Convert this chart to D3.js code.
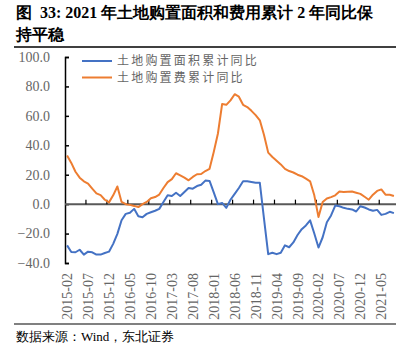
<!DOCTYPE html>
<html>
<head>
<meta charset="utf-8">
<script src="https://cdn.jsdelivr.net/npm/d3@7"></script>
<style>
  html, body { margin: 0; padding: 0; background: #fff; }
  svg { display: block; }
</style>
</head>
<body>
<div id="chart"></div>
<script>
// 数据：2015-02 ~ 2021-08 月度，两年累计同比（%）
const START = new Date(2015, 1, 1);
const N = 79;
const months = d3.range(N).map(i => d3.timeFormat("%Y-%m")(d3.timeMonth.offset(START, i)));

const areaYoY = [
  -28, -32.5, -32.7, -31, -34.3, -32.3, -32.7, -34.3, -34.3, -33.2,
  -32.3, -27, -20.2, -11, -6.6, -5.9, -3.2, -8.2, -8.9, -6.6,
  -5.5, -4.5, -3.2, 1.4, 6, 5.5, 7.7, 5.5, 8.2, 11,
  10.5, 12.3, 13.2, 16, 15.8, 8, 0, 0.8, -2.5, 3,
  7, 11, 15.5, 15.5, 15, 14.5, 14.5, -10, -34, -33,
  -34, -33, -28, -29.3, -26, -21, -17, -14.5, -11, -20,
  -29.5, -22.5, -12.3, -7.7, -1, -1.4, -2.5, -3.2, -3.6, -5,
  -1.4, -2.3, -3.6, -4.5, -3.9, -7.3, -6.6, -5.2, -6.1
];

const costYoY = [
  33, 28, 22, 18, 15.5, 14, 10.5, 7.3, 6.1, 3,
  1.2, 6, 12, 1.5, 0, -0.5, -1.2, -2, 0, 1.5,
  4, 4.8, 6.5, 11, 15, 17, 21, 19.5, 18, 16.2,
  18.5, 20.3, 20.5, 22.5, 24, 35.5, 48, 68, 67.5, 70.5,
  74.7, 73, 67.5, 66, 63.4, 60.5, 57, 47, 35, 32,
  29.5, 27, 24, 22.5, 21.5, 20, 19, 17.3, 15.5, 6,
  -8.8, 1.4, 3.8, 4.8, 6, 8.6, 8.2, 8.5, 8.6, 7.8,
  7, 5, 3, 6.4, 9, 10, 6.4, 6.4, 5.5
];

const yTicks = [100, 80, 60, 40, 20, 0, -20, -40];
const xTickLabels = ["2015-02","2015-07","2015-12","2016-05","2016-10","2017-03","2017-08","2018-01",
                     "2018-06","2018-11","2019-04","2019-09","2020-02","2020-07","2020-12","2021-05"];

const seriesNames = ["土地购置面积累计同比", "土地购置费累计同比"];
const seriesColors = ["#4472C4", "#ED7D31"];

const W = 411, H = 354;
const svg = d3.select("#chart").append("svg").attr("width", W).attr("height", H);

const SERIF = "'Liberation Serif', 'Times New Roman', serif";
const CJK = "'Noto Sans CJK SC', sans-serif";

// 标题
const title = svg.append("g").attr("font-family", SERIF).attr("font-weight", "bold")
  .attr("font-size", 16).attr("fill", "#000");
title.append("text").attr("x", 16).attr("y", 18).attr("xml:space", "preserve")
  .text("图  33: 2021 年土地购置面积和费用累计 2 年同比保");
title.append("text").attr("x", 16).attr("y", 40).text("持平稳");

svg.append("line").attr("x1", 14).attr("x2", 396).attr("y1", 47).attr("y2", 47)
  .attr("stroke", "#000").attr("stroke-width", 1.5);

// 刻度
const x = d3.scaleBand().domain(months).range([65, 396]).paddingInner(0).paddingOuter(0);
const y = d3.scaleLinear().domain([-40, 100]).range([263, 57]);
const cx = m => x(m) + x.bandwidth() / 2;

// y 轴
const yAxis = svg.append("g").attr("transform", "translate(65,0)")
  .call(d3.axisRight(y).tickValues(yTicks).tickSize(4).tickFormat(""));
yAxis.select(".domain").attr("stroke", "#000").attr("stroke-width", 1.5);
yAxis.selectAll(".tick line").attr("stroke", "#000").attr("stroke-width", 1.5);

svg.append("g").selectAll("text").data(yTicks).join("text")
  .attr("x", 50).attr("y", d => y(d)).attr("dy", "0.35em")
  .attr("text-anchor", "end")
  .attr("font-family", SERIF).attr("font-size", 14).attr("fill", "#666")
  .text(d => d3.format(".1f")(d));

// x 轴（在 0 处）
const xAxis = svg.append("g").attr("transform", `translate(0,${y(0)})`);
xAxis.append("line").attr("x1", 65).attr("x2", 396).attr("y1", 0).attr("y2", 0)
  .attr("stroke", "#595959").attr("stroke-width", 2);
xAxis.selectAll("line.tk").data(months.filter((m, i) => i % 5 === 0 && i > 0)).join("line")
  .attr("class", "tk")
  .attr("x1", d => x(d)).attr("x2", d => x(d))
  .attr("y1", 0).attr("y2", -4.5)
  .attr("stroke", "#000").attr("stroke-width", 1.2);

// x 标签（底部，竖排）
svg.append("g").selectAll("text").data(xTickLabels).join("text")
  .attr("transform", d => `translate(${cx(d) + 5},273) rotate(-90)`)
  .attr("text-anchor", "end")
  .attr("font-family", SERIF).attr("font-size", 14).attr("fill", "#666")
  .text(d => d);

// 折线
const line = d3.line().x((d, i) => cx(months[i])).y(d => y(d));
[areaYoY, costYoY].forEach((s, k) => {
  svg.append("path").datum(s)
    .attr("d", line)
    .attr("fill", "none")
    .attr("stroke", seriesColors[k])
    .attr("stroke-width", 2)
    .attr("stroke-linejoin", "round");
});

// 图例
const leg = svg.append("g");
seriesNames.forEach((name, k) => {
  const ly = 61 + k * 16.5;
  leg.append("line").attr("x1", 82).attr("x2", 112).attr("y1", ly).attr("y2", ly)
    .attr("stroke", seriesColors[k]).attr("stroke-width", 2);
  leg.append("text").attr("x", 117).attr("y", ly).attr("dy", "0.36em")
    .attr("font-family", CJK).attr("font-size", 12).attr("letter-spacing", 2.2)
    .attr("fill", "#666").text(name);
});

// 底部
svg.append("line").attr("x1", 14).attr("x2", 396).attr("y1", 324).attr("y2", 324)
  .attr("stroke", "#808080").attr("stroke-width", 2);
svg.append("text").attr("x", 16).attr("y", 341)
  .attr("font-family", SERIF).attr("font-size", 13).attr("fill", "#000")
  .text("数据来源：Wind，东北证券");
</script>
</body>
</html>
